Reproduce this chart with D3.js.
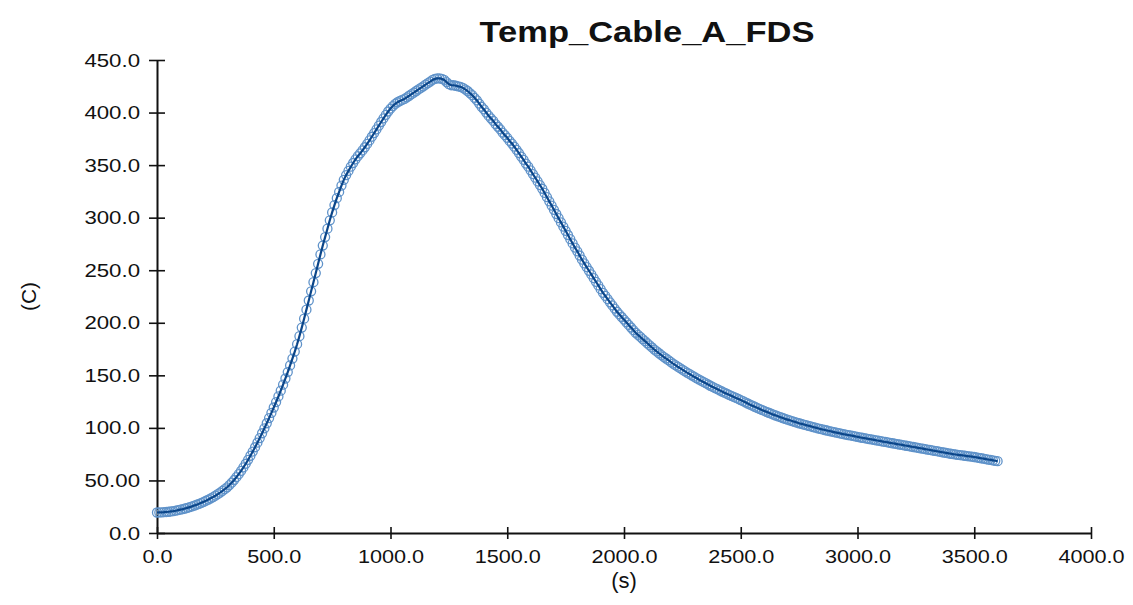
<!DOCTYPE html>
<html>
<head>
<meta charset="utf-8">
<script src="https://cdn.jsdelivr.net/npm/d3@7"></script>
<style>
  body { margin: 0; background: #fff; }
  text { font-family: "Liberation Sans", Arial, sans-serif; fill: #111; }
</style>
</head>
<body>
<svg id="chart" width="1133" height="605"></svg>
<script>
// Temp_Cable_A_FDS - cable temperature vs time, one sample every 10 s
const title = 'Temp_Cable_A_FDS';
const xLabel = '(s)';
const yLabel = '(C)';
const timeStep = 10;

// temperatures (C), rows of 100 s
const temps = [
  19.5, 19.6, 19.7, 19.8, 20.0, 20.2, 20.5, 20.8, 21.2, 21.7,
  22.2, 22.7, 23.3, 23.9, 24.6, 25.3, 26.1, 26.9, 27.8, 28.7,
  29.7, 30.7, 31.8, 33.0, 34.2, 35.5, 36.9, 38.4, 40.0, 41.7,
  43.5, 45.6, 47.9, 50.4, 53.1, 56.0, 59.1, 62.4, 65.9, 69.6,
  73.5, 77.5, 81.6, 85.9, 90.3, 94.9, 99.6, 104.4, 109.3, 114.3,
  119.4, 124.6, 129.9, 135.4, 141.1, 147.0, 153.1, 159.4, 165.9, 172.6,
  179.6, 187.3, 195.4, 203.9, 212.5, 221.2, 229.9, 238.6, 247.3, 256.1,
  265.0, 273.5, 281.5, 289.5, 297.5, 305.0, 312.0, 318.5, 324.5, 330.5,
  336.0, 340.5, 344.5, 348.5, 352.0, 355.5, 358.5, 361.2, 364.0, 367.0,
  370.2, 373.5, 377.0, 380.5, 384.0, 387.5, 391.0, 394.5, 397.8, 401.0,
  403.8, 406.2, 408.2, 409.8, 411.0, 412.0, 413.0, 414.5, 416.0, 417.5,
  419.0, 420.5, 422.0, 423.5, 425.0, 426.5, 428.0, 429.5, 431.0, 432.0,
  432.5, 432.5, 432.0, 431.0, 429.0, 427.0, 426.0, 426.0, 425.5, 425.0,
  424.5, 423.5, 422.0, 420.5, 418.5, 416.5, 414.0, 411.5, 408.5, 405.5,
  403.0, 400.0, 397.0, 394.5, 392.0, 389.0, 386.5, 384.0, 381.0, 378.5,
  376.0, 373.0, 370.5, 367.5, 364.5, 361.5, 358.0, 355.0, 351.5, 348.5,
  345.0, 341.5, 338.0, 334.5, 331.0, 327.5, 323.5, 319.5, 315.5, 311.5,
  307.5, 303.5, 299.5, 295.5, 291.5, 287.5, 283.5, 279.5, 275.5, 271.5,
  268.0, 264.0, 260.0, 256.5, 253.0, 249.5, 246.0, 242.5, 239.0, 235.5,
  232.0, 228.5, 225.5, 222.5, 219.5, 216.5, 213.5, 210.5, 208.0, 205.5,
  203.0, 200.5, 198.0, 195.5, 193.0, 190.5, 188.5, 186.5, 184.5, 182.5,
  180.5, 178.5, 176.5, 174.5, 172.7, 171.0, 169.3, 167.6, 166.0, 164.4,
  162.8, 161.2, 159.7, 158.2, 156.8, 155.4, 154.0, 152.6, 151.3, 150.0,
  148.7, 147.4, 146.1, 144.9, 143.7, 142.5, 141.3, 140.1, 139.0, 137.9,
  136.8, 135.7, 134.6, 133.5, 132.5, 131.5, 130.5, 129.5, 128.5, 127.5,
  126.5, 125.4, 124.3, 123.2, 122.1, 121.1, 120.1, 119.1, 118.1, 117.1,
  116.2, 115.3, 114.4, 113.5, 112.6, 111.8, 111.0, 110.2, 109.4, 108.6,
  107.9, 107.2, 106.5, 105.8, 105.1, 104.4, 103.8, 103.2, 102.6, 102.0,
  101.4, 100.8, 100.2, 99.6, 99.0, 98.5, 98.0, 97.5, 97.0, 96.5,
  96.0, 95.5, 95.0, 94.5, 94.0, 93.6, 93.2, 92.8, 92.4, 92.0,
  91.5, 91.0, 90.6, 90.2, 89.8, 89.4, 89.0, 88.6, 88.2, 87.8,
  87.4, 87.0, 86.6, 86.2, 85.8, 85.4, 85.0, 84.6, 84.2, 83.8,
  83.4, 83.0, 82.6, 82.2, 81.8, 81.4, 81.0, 80.6, 80.2, 79.8,
  79.4, 79.0, 78.6, 78.2, 77.8, 77.4, 77.0, 76.6, 76.2, 75.8,
  75.4, 75.0, 74.7, 74.4, 74.1, 73.8, 73.5, 73.2, 72.9, 72.6,
  72.3, 71.9, 71.5, 71.1, 70.7, 70.3, 69.9, 69.5, 69.1, 68.7,
  68.3
];

// axis ticks as printed on the chart
const xTicks = [0, 500, 1000, 1500, 2000, 2500, 3000, 3500, 4000];
const xTickLabels = ['0.0', '500.0', '1000.0', '1500.0', '2000.0', '2500.0', '3000.0', '3500.0', '4000.0'];
const yTicks = [0, 50, 100, 150, 200, 250, 300, 350, 400, 450];
const yTickLabels = ['0.0', '50.00', '100.0', '150.0', '200.0', '250.0', '300.0', '350.0', '400.0', '450.0'];

const data = temps.map((v, i) => ({ t: i * timeStep, v: v }));

const svg = d3.select('#chart');
const plotLeft = 157, plotRight = 1091, plotTop = 60, plotBottom = 533;

const x = d3.scaleLinear().domain([0, 4000]).range([plotLeft, plotRight]);
const y = d3.scaleLinear().domain([0, 450]).range([plotBottom, plotTop]);

// the source text looks horizontally stretched, mimic it
function stretch(sel, k) {
  sel.each(function() {
    const w = this.getComputedTextLength();
    this.setAttribute('textLength', w * k);
    this.setAttribute('lengthAdjust', 'spacingAndGlyphs');
  });
}

// x axis
const gx = svg.append('g')
  .attr('transform', `translate(0,${plotBottom})`)
  .call(d3.axisBottom(x)
    .tickValues(xTicks)
    .tickFormat((d, i) => xTickLabels[i])
    .tickSizeOuter(0)
    .tickSizeInner(6)
    .tickPadding(11));
gx.select('.domain').attr('stroke', '#111').attr('stroke-width', 2);
gx.selectAll('.tick line').attr('y1', -6).attr('y2', 6).attr('stroke', '#111').attr('stroke-width', 1.6);
gx.selectAll('.tick text').style('font-size', '19px').attr('fill', '#111');
stretch(gx.selectAll('.tick text'), 1.14);

// y axis
const gy = svg.append('g')
  .attr('transform', `translate(${plotLeft},0)`)
  .call(d3.axisLeft(y)
    .tickValues(yTicks)
    .tickFormat((d, i) => yTickLabels[i])
    .tickSizeOuter(0)
    .tickSizeInner(8)
    .tickPadding(9));
gy.select('.domain').attr('stroke', '#111').attr('stroke-width', 2);
gy.selectAll('.tick line').attr('x1', -8).attr('x2', 8).attr('stroke', '#111').attr('stroke-width', 1.6);
gy.selectAll('.tick text').style('font-size', '19px').attr('fill', '#111');
stretch(gy.selectAll('.tick text'), 1.17);

// markers
svg.append('g')
  .selectAll('circle')
  .data(data)
  .enter().append('circle')
  .attr('cx', d => x(d.t))
  .attr('cy', d => y(d.v))
  .attr('r', 4.5)
  .attr('fill', 'none')
  .attr('stroke', '#5f92c9')
  .attr('stroke-width', 1.3);

// line on top
const line = d3.line().x(d => x(d.t)).y(d => y(d.v));
svg.append('path')
  .datum(data)
  .attr('d', line)
  .attr('fill', 'none')
  .attr('stroke', '#0b468a')
  .attr('stroke-width', 2.2);

// title and axis labels
svg.append('text')
  .attr('x', 647)
  .attr('y', 42)
  .attr('text-anchor', 'middle')
  .style('font-size', '30px')
  .style('font-weight', 'bold')
  .text(title)
  .call(stretch, 1.15);

svg.append('text')
  .attr('x', (plotLeft + plotRight) / 2)
  .attr('y', 588)
  .attr('text-anchor', 'middle')
  .style('font-size', '22px')
  .text(xLabel);

svg.append('text')
  .attr('transform', `translate(36,${(plotTop + plotBottom) / 2}) rotate(-90)`)
  .attr('text-anchor', 'middle')
  .style('font-size', '21px')
  .text(yLabel);
</script>
</body>
</html>
